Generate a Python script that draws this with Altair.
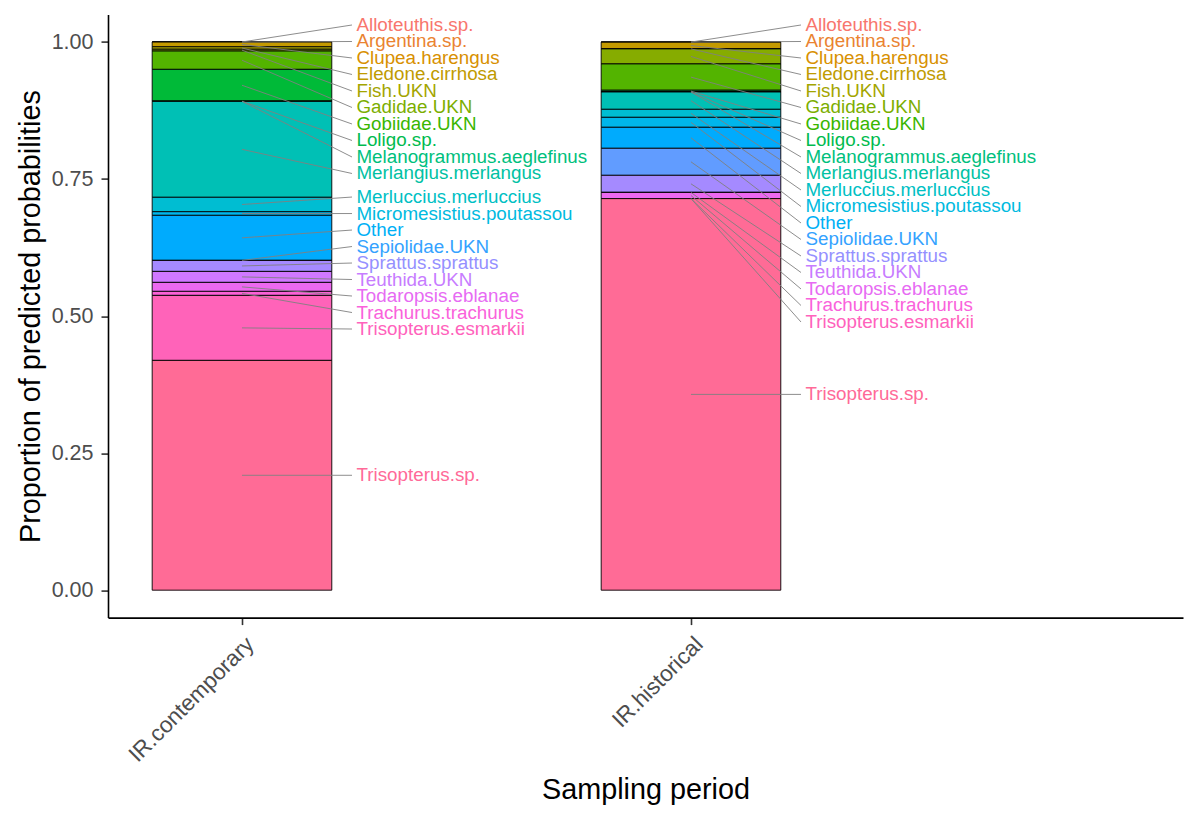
import math
import altair as alt
import pandas as pd

species = ["Alloteuthis.sp.", "Argentina.sp.", "Clupea.harengus", "Eledone.cirrhosa",
           "Fish.UKN", "Gadidae.UKN", "Gobiidae.UKN", "Loligo.sp.",
           "Melanogrammus.aeglefinus", "Merlangius.merlangus", "Merluccius.merluccius",
           "Micromesistius.poutassou", "Other", "Sepiolidae.UKN", "Sprattus.sprattus",
           "Teuthida.UKN", "Todaropsis.eblanae", "Trachurus.trachurus",
           "Trisopterus.esmarkii", "Trisopterus.sp."]
periods = ["IR.contemporary", "IR.historical"]
contemporary = [0.0001, 0.0001, 0.0086, 0.0045, 0.0033, 0.0334, 0.0580, 0.0002,
                0.0002, 0.1750, 0.0263, 0.0066, 0.0821, 0.0002, 0.0200, 0.0200,
                0.0164, 0.0073, 0.1186, 0.4192]
historical = [0.0001, 0.0001, 0.0122, 0.0001, 0.0274, 0.0480, 0.0030, 0.0001,
              0.0001, 0.0316, 0.0146, 0.0182, 0.0383, 0.0493, 0.0310, 0.0003,
              0.0110, 0.0001, 0.0001, 0.7143]


def hcl(h, c=100.0, l=65.0):
    """R-style hcl() -> hex (polar CIE-LUV, D65)."""
    Xn, Yn, Zn = 95.047, 100.0, 108.883
    un = 4 * Xn / (Xn + 15 * Yn + 3 * Zn)
    vn = 9 * Yn / (Xn + 15 * Yn + 3 * Zn)
    U = c * math.cos(math.radians(h))
    V = c * math.sin(math.radians(h))
    Y = Yn * ((l + 16) / 116) ** 3 if l > 8 else Yn * l / 903.3
    up = U / (13 * l) + un
    vp = V / (13 * l) + vn
    X = 9.0 * Y * up / (4 * vp)
    Z = -X / 3 - 5 * Y + 3 * Y / vp
    X, Y, Z = X / 100, Y / 100, Z / 100
    rgb = [3.240479 * X - 1.537150 * Y - 0.498535 * Z,
           -0.969256 * X + 1.875992 * Y + 0.041556 * Z,
           0.055648 * X - 0.204043 * Y + 1.057311 * Z]
    out = []
    for v in rgb:
        v = 12.92 * v if v <= 0.0031308 else 1.055 * v ** (1 / 2.4) - 0.055
        out.append(int(round(min(max(v, 0), 1) * 255)))
    return "#%02X%02X%02X" % tuple(out)


# label colours: hue palette of 20; bar fills: hue palette of 21 (first hue unused)
label_palette = [hcl(15 + 360 / 20 * i) for i in range(20)]
fill_palette = [hcl(15 + 360 / 21 * (i + 1)) for i in range(20)]

PX_PER_UNIT = 548.2
GAP = 16.5 / PX_PER_UNIT          # minimum vertical spacing between labels
TOP = 1.05 - 10.4 / PX_PER_UNIT   # labels must stay inside the panel


def pava(vals):
    blocks = []
    for v in vals:
        blocks.append([v, 1])
        while len(blocks) > 1 and blocks[-2][0] / blocks[-2][1] > blocks[-1][0] / blocks[-1][1]:
            s, c = blocks.pop()
            blocks[-1][0] += s
            blocks[-1][1] += c
    out = []
    for s, c in blocks:
        out += [s / c] * c
    return out


rows = []
for pi, (period, vals) in enumerate(zip(periods, [contemporary, historical])):
    xpos = pi + 1
    n = len(vals)
    y1 = [sum(vals[k:]) for k in range(n)]
    y0 = [sum(vals[k + 1:]) for k in range(n)]
    mids = [(a + b) / 2 for a, b in zip(y0, y1)]
    # 1-D label repulsion: keep order, enforce spacing, stay close to targets
    z = [-m - i * GAP for i, m in enumerate(mids)]
    z = [max(v, -TOP) for v in pava(z)]
    lab = [-(v + i * GAP) for i, v in enumerate(z)]
    for k in range(n):
        rows.append(dict(period=period, species=species[k], xpos=xpos,
                         y0=y0[k], y1=y1[k], mid=mids[k], laby=lab[k]))

df = pd.DataFrame(rows)

FONT = "Liberation Sans"
xscale = alt.Scale(domain=[0.7016, 3.0958], nice=False, zero=False)
yscale = alt.Scale(domain=[-0.05, 1.05], nice=False, zero=False)

xaxis = alt.Axis(values=[1, 2], title="Sampling period",
                 labelExpr="datum.value == 1 ? 'IR.contemporary' : 'IR.historical'",
                 labelAngle=-45, labelAlign="right", labelBaseline="top",
                 labelFontSize=22.5, labelColor="#4D4D4D", labelFont=FONT,
                 labelPadding=8, tickSize=7, tickColor="#333333", tickWidth=1.6,
                 domainColor="black", domainWidth=1.6, grid=False,
                 titleFontSize=28.8, titleFontWeight="normal", titleColor="black",
                 titleFont=FONT, titlePadding=9)
yaxis = alt.Axis(values=[0, 0.25, 0.5, 0.75, 1.0], format=".2f",
                 title="Proportion of predicted probabilities",
                 labelFontSize=21.5, labelColor="#4D4D4D", labelFont=FONT,
                 labelPadding=8, tickSize=7, tickColor="#333333", tickWidth=1.6,
                 domainColor="black", domainWidth=1.6, grid=False,
                 titleFontSize=28.8, titleFontWeight="normal", titleColor="black",
                 titleFont=FONT, titlePadding=6)

base = alt.Chart(df)

bars = base.transform_calculate(
    xl="datum.xpos - 0.2", xr="datum.xpos + 0.2"
).mark_rect(stroke="black", strokeWidth=0.9).encode(
    x=alt.X("xl:Q", scale=xscale, axis=xaxis),
    x2="xr:Q",
    y=alt.Y("y0:Q", scale=yscale, axis=yaxis),
    y2="y1:Q",
    fill=alt.Fill("species:N", scale=alt.Scale(domain=species, range=fill_palette),
                  legend=None),
)

segs = base.transform_calculate(
    xe="datum.xpos + 0.245"
).mark_rule(color="#808080", strokeWidth=0.9).encode(
    x=alt.X("xpos:Q", scale=xscale, axis=xaxis),
    x2="xe:Q",
    y=alt.Y("mid:Q", scale=yscale, axis=yaxis),
    y2="laby:Q",
)

labels = base.transform_calculate(
    xt="datum.xpos + 0.255"
).mark_text(align="left", baseline="middle", font=FONT, fontSize=18.8).encode(
    x=alt.X("xt:Q", scale=xscale, axis=xaxis),
    y=alt.Y("laby:Q", scale=yscale, axis=yaxis),
    text="species:N",
    color=alt.Color("species:N", scale=alt.Scale(domain=species, range=label_palette),
                    legend=None),
)

chart = alt.layer(bars, segs, labels).resolve_scale(
    color="independent", fill="independent"
).properties(
    width=1075, height=603,
    autosize=alt.AutoSizeParams(type="none"),
    padding={"left": 100, "top": 6.6, "right": 9, "bottom": 190},
    background="white",
).configure_view(stroke=None)

chart.save("out.html", embed_options={"renderer": "svg", "actions": False})
